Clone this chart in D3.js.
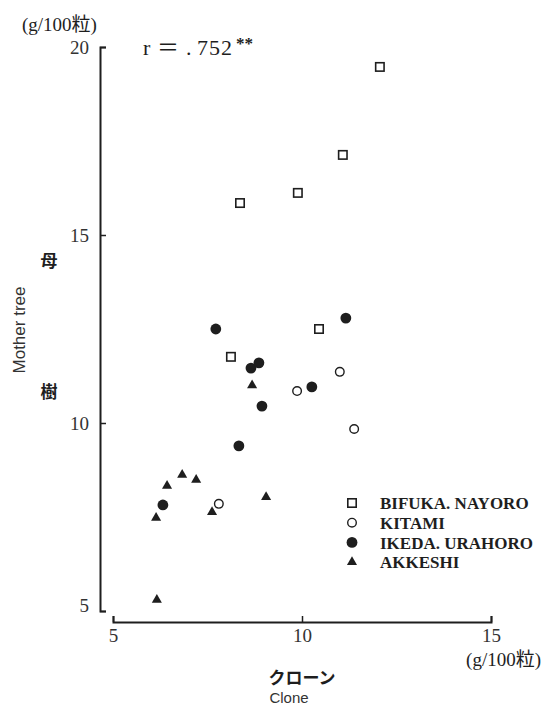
<!DOCTYPE html>
<html>
<head>
<meta charset="utf-8">
<script src="https://cdn.jsdelivr.net/npm/d3@7/dist/d3.min.js"></script>
<style>
  html, body { margin: 0; padding: 0; background: #fff; }
  svg { display: block; }
</style>
</head>
<body>
<svg id="chart" width="542" height="710"></svg>
<script>
// Seed weight (g/100 grains): clone (x) vs. mother tree (y), by provenance
const groups = ["BIFUKA. NAYORO", "KITAMI", "IKEDA. URAHORO", "AKKESHI"];

const bifukaClone  = [12.06, 11.08, 9.89, 8.36, 10.45, 8.12];
const bifukaMother = [19.47, 17.13, 16.12, 15.85, 12.50, 11.76];

const kitamiClone  = [9.87, 11.00, 11.38, 7.80];
const kitamiMother = [10.85, 11.36, 9.84, 7.85];

const ikedaClone  = [11.16, 8.65, 8.86, 10.26, 8.94, 8.33, 7.72, 6.32];
const ikedaMother = [12.79, 11.46, 11.60, 10.96, 10.45, 9.39, 12.50, 7.82];

const akkeshiClone  = [8.68, 6.83, 7.20, 6.43, 9.05, 7.62, 6.14, 6.16];
const akkeshiMother = [11.00, 8.62, 8.49, 8.33, 8.03, 7.63, 7.48, 5.30];

const xTicks = [5, 10, 15];
const yTicks = [5, 10, 15, 20];

const svg = d3.select("#chart");
const ink = "#1e1e1e";
const serif = "'Liberation Serif', 'Noto Sans CJK JP', serif";
const sans = "'Liberation Sans', Arial, sans-serif";
const cjk = "'Noto Sans CJK JP', sans-serif";

const x = d3.scaleLinear().domain([5, 15]).range([113, 491]);
const y = d3.scaleLinear().domain([5, 20]).range([611, 47]);

// Y axis: ticks point inward, ends bent to the right
const yAxis = svg.append("g")
  .attr("transform", "translate(100,0)")
  .call(d3.axisLeft(y).tickValues(yTicks).tickSizeInner(-6).tickSizeOuter(-6).tickPadding(11).tickFormat(d3.format("d")));
// X axis: ticks point upward
const xAxis = svg.append("g")
  .attr("transform", "translate(0,622)")
  .call(d3.axisBottom(x).tickValues(xTicks).tickSizeInner(-6).tickSizeOuter(-6).tickPadding(10).tickFormat(d3.format("d")));

[yAxis, xAxis].forEach(a => {
  a.select(".domain").attr("stroke", ink).attr("stroke-width", 2);
  a.selectAll(".tick line").attr("stroke", ink).attr("stroke-width", 1.5);
  a.selectAll(".tick text").attr("fill", "#333").style("font-family", serif).style("font-size", "19px");
});
yAxis.selectAll(".tick text").filter(d => d === 5).attr("dy", "0.05em");
xAxis.selectAll(".tick text").attr("dy", "0.55em");

// Markers
const markerDefs = [
  { clone: bifukaClone,  mother: bifukaMother,  shape: "square" },
  { clone: kitamiClone,  mother: kitamiMother,  shape: "openCircle" },
  { clone: ikedaClone,   mother: ikedaMother,   shape: "dot" },
  { clone: akkeshiClone, mother: akkeshiMother, shape: "triangle" }
];

function drawMarker(g, shape, cx, cy) {
  if (shape === "square") {
    g.append("rect").attr("x", cx - 4.2).attr("y", cy - 4.2).attr("width", 8.4).attr("height", 8.4)
      .attr("fill", "#fff").attr("stroke", ink).attr("stroke-width", 1.6);
  } else if (shape === "openCircle") {
    g.append("circle").attr("cx", cx).attr("cy", cy).attr("r", 4.3)
      .attr("fill", "#fff").attr("stroke", ink).attr("stroke-width", 1.4);
  } else if (shape === "dot") {
    g.append("circle").attr("cx", cx).attr("cy", cy).attr("r", 5.4).attr("fill", ink);
  } else {
    g.append("path").attr("d", d3.symbol(d3.symbolTriangle, 44)())
      .attr("transform", `translate(${cx},${cy})`).attr("fill", ink);
  }
}

const pts = svg.append("g");
markerDefs.forEach(m => {
  m.clone.forEach((c, i) => drawMarker(pts, m.shape, x(c), y(m.mother[i])));
});

// Legend
const legend = svg.append("g");
groups.forEach((name, i) => {
  const ly = 503 + i * 19.7;
  drawMarker(legend, markerDefs[i].shape, 352, ly);
  legend.append("text").attr("x", 380).attr("y", ly).attr("dy", "0.36em")
    .attr("fill", ink).style("font-family", serif).style("font-size", "17px").style("font-weight", "bold")
    .text(name);
});

// Correlation note
const rText = svg.append("text").attr("y", 55).attr("fill", ink)
  .style("font-family", serif).style("font-size", "22px");
rText.append("tspan").attr("x", 143).text("r");
rText.append("tspan").attr("x", 157).text("＝");
rText.append("tspan").attr("x", 186).text(".");
rText.append("tspan").attr("x", 197).style("letter-spacing", "1px").text("752");
svg.append("text").attr("x", 236).attr("y", 49)
  .attr("fill", ink).style("font-family", serif).style("font-size", "17px").style("font-weight", "bold")
  .text("**");

// Unit labels
svg.append("text").attr("x", 22).attr("y", 31)
  .attr("fill", ink).style("font-family", serif).style("font-size", "19px")
  .text("(g/100粒)");
svg.append("text").attr("x", 541).attr("y", 666).attr("text-anchor", "end")
  .attr("fill", ink).style("font-family", serif).style("font-size", "19px")
  .text("(g/100粒)");

// Axis titles
svg.append("text").attr("x", 302).attr("y", 684).attr("text-anchor", "middle")
  .attr("fill", ink).style("font-family", cjk).style("font-size", "17px").style("font-weight", "bold")
  .text("クローン");
svg.append("text").attr("x", 289).attr("y", 703).attr("text-anchor", "middle")
  .attr("fill", "#333").style("font-family", sans).style("font-size", "15px")
  .text("Clone");

svg.append("text").attr("transform", "translate(25,330) rotate(-90)").attr("text-anchor", "middle")
  .attr("fill", "#333").style("font-family", sans).style("font-size", "17px")
  .text("Mother tree");
svg.append("text").attr("x", 49).attr("y", 261).attr("dy", "0.36em").attr("text-anchor", "middle")
  .attr("fill", ink).style("font-family", cjk).style("font-size", "17px").style("font-weight", "bold")
  .text("母");
svg.append("text").attr("x", 49).attr("y", 392).attr("dy", "0.36em").attr("text-anchor", "middle")
  .attr("fill", ink).style("font-family", cjk).style("font-size", "17px").style("font-weight", "bold")
  .text("樹");
</script>
</body>
</html>
